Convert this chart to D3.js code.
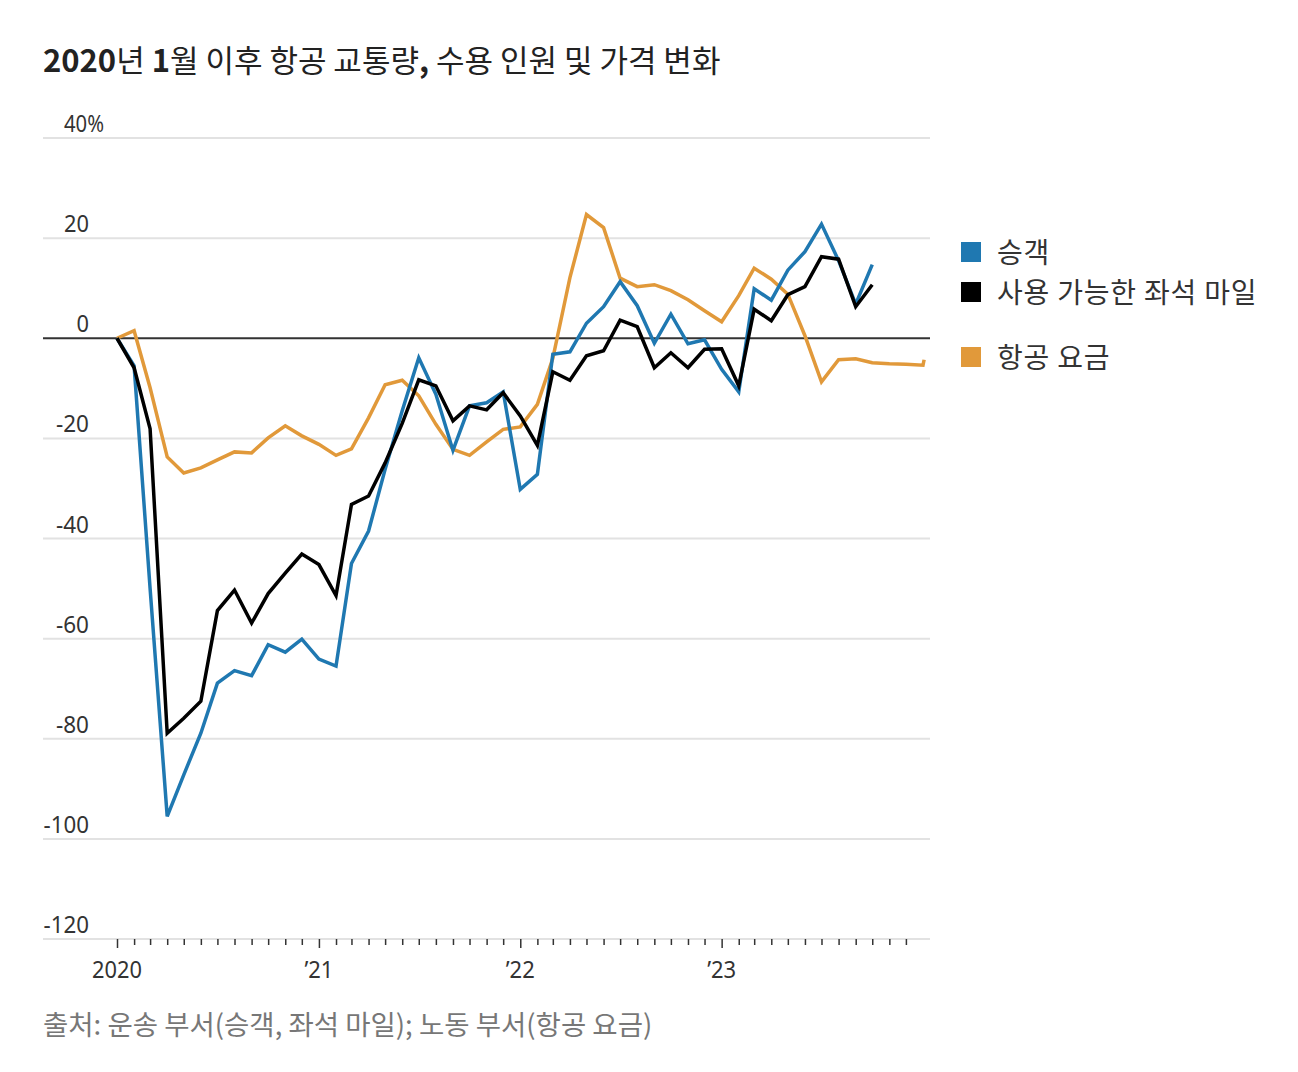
<!DOCTYPE html>
<html>
<head>
<meta charset="utf-8">
<script src="https://cdn.jsdelivr.net/npm/d3@7"></script>
<style>
  body { margin: 0; background: #fff; }
  text { font-family: "Noto Sans CJK KR", "Noto Sans", sans-serif; }
  .num { font-family: "Liberation Sans Narrow", "Noto Sans", sans-serif; }
</style>
</head>
<body>
<div id="chart"></div>
<script>
// monthly % change vs Jan 2020
const passengers = [
  0, -5.5, -50, -95.5, -87.2, -78.9, -68.9, -66.4, -67.4, -61.2, -62.7, -60.1,
  -64.1, -65.5, -45, -38.5, -26.2, -14.5, -3.9, -11.2, -22.4, -13.5, -12.9, -10.7,
  -30.2, -27.2, -3.2, -2.7, 3, 6.3, 11.3, 6.5, -1, 4.8, -1.1, -0.3,
  -6.2, -10.7, 9.9, 7.6, 13.6, 17.3, 22.8, 15.5, 6.8, 14.7
];
const seatMiles = [
  0, -5.9, -18.1, -78.9, -75.9, -72.5, -54.4, -50.3, -56.9, -51, -46.9, -43.1,
  -45.2, -51.4, -33.2, -31.5, -24.9, -17, -8.3, -9.5, -16.5, -13.5, -14.3, -10.9,
  -15.5, -21.4, -6.7, -8.4, -3.5, -2.5, 3.6, 2.3, -5.9, -2.9, -5.9, -2.2,
  -2.1, -9.5, 5.8, 3.5, 8.7, 10.3, 16.3, 15.8, 6.3, 10.7
];
const fares = [
  0, 1.5, -9.9, -23.7, -26.9, -25.9, -24.3, -22.7, -22.9, -19.9, -17.5, -19.5,
  -21.2, -23.4, -22.1, -15.9, -9.3, -8.4, -11.5, -17.2, -22.2, -23.4, -20.7, -18.2,
  -17.7, -13.2, -4, 12.1, 24.7, 22.1, 12, 10.3, 10.7, 9.5, 7.7, 5.5,
  3.3, 8.5, 14, 11.8, 8.8, 0.5, -8.7, -4.3, -4.1, -4.9, -5.1, -5.2,
  -5.4, -4.3
];
const months = d3.timeMonth.range(new Date(2020, 0, 1), new Date(2024, 1, 1));
const fareDates = [...months, new Date(2024, 0, 3)];
const yTicks = [40, 20, 0, -20, -40, -60, -80, -100, -120];
const yearLabels = ["2020", "\u201921", "\u201922", "\u201923"];
const seriesNames = ["승객", "사용 가능한 좌석 마일", "항공 요금"];
const colors = ["#1f78b1", "#000000", "#e1993a"];

const W = 1298, H = 1072;
const svg = d3.select("#chart").append("svg")
  .attr("width", W).attr("height", H);

const x = d3.scaleTime()
  .domain([new Date(2020, 0, 1), new Date(2024, 0, 1)])
  .range([117, 923]);
const y = d3.scaleLinear().domain([-120, 40]).range([939, 138]);

// rough widths of the condensed digit font
const charW = c => c === "-" ? 8 : c === "\u2019" ? 4 : c === "%" ? 15 : 12.5;
const strW = s => s.split("").reduce((a, c) => a + charW(c), 0);

// title
const title = svg.append("text").attr("x", 43).attr("y", 72)
  .attr("font-size", 31).attr("fill", "#222");
title.append("tspan").attr("font-weight", "bold").text("2020");
title.append("tspan").text("년 ");
title.append("tspan").attr("font-weight", "bold").text("1");
title.append("tspan").text("월 이후 항공 교통량");
title.append("tspan").attr("font-weight", "bold").text(",");
title.append("tspan").text(" 수용 인원 및 가격 변화");

// gridlines
svg.append("g").selectAll("line").data(yTicks).enter().append("line")
  .attr("x1", 43).attr("x2", 930)
  .attr("y1", d => y(d)).attr("y2", d => y(d))
  .attr("stroke", d => d === 0 ? "#333" : "#e2e2e2")
  .attr("stroke-width", 2);

// y labels
const yLabel = d => d === 40 ? "40%" : String(d);
svg.append("g").selectAll("text").data(yTicks).enter().append("text")
  .attr("class", "num")
  .attr("x", d => d === 40 ? 89 + charW("%") : 89)
  .attr("y", d => y(d) - 6)
  .attr("text-anchor", "end")
  .attr("font-size", 24).attr("fill", "#333")
  .attr("textLength", d => strW(yLabel(d)))
  .attr("lengthAdjust", "spacingAndGlyphs")
  .text(yLabel);

// x axis ticks
const xAxis = svg.append("g")
  .attr("transform", `translate(0,${y(-120)})`)
  .call(d3.axisBottom(x)
    .tickValues(months.slice(0, 48))
    .tickSize(6)
    .tickFormat(""));
xAxis.select(".domain").remove();
xAxis.selectAll(".tick line")
  .attr("stroke", "#333").attr("stroke-width", 1.5)
  .attr("y2", d => d.getMonth() === 0 ? 9 : 6);

svg.append("g").selectAll("text").data(yearLabels).enter().append("text")
  .attr("class", "num")
  .attr("x", (d, i) => x(new Date(2020 + i, 0, 1)))
  .attr("y", 978)
  .attr("text-anchor", "middle")
  .attr("font-size", 24).attr("fill", "#333")
  .attr("textLength", d => strW(d))
  .attr("lengthAdjust", "spacingAndGlyphs")
  .text(d => d);

// lines
const line = d3.line().x(d => x(d[0])).y(d => y(d[1]));
const seriesData = [
  passengers.map((v, i) => [months[i], v]),
  seatMiles.map((v, i) => [months[i], v]),
  fares.map((v, i) => [fareDates[i], v])
];
[2, 0, 1].forEach(k => {
  svg.append("path")
    .datum(seriesData[k])
    .attr("fill", "none")
    .attr("stroke", colors[k])
    .attr("stroke-width", 3.5)
    .attr("stroke-linejoin", "miter")
    .attr("d", line);
});

// legend
const legendY = [252, 292, 357];
const legend = svg.append("g");
seriesNames.forEach((name, i) => {
  legend.append("rect")
    .attr("x", 961).attr("y", legendY[i] - 10)
    .attr("width", 20).attr("height", 20)
    .attr("fill", colors[i]);
  legend.append("text")
    .attr("x", 997).attr("y", legendY[i] + 11)
    .attr("font-size", 28).attr("fill", "#333")
    .attr("letter-spacing", 0.8)
    .text(name);
});

// source
svg.append("text").attr("x", 43).attr("y", 1035)
  .attr("font-size", 27.5).attr("fill", "#777")
  .text("출처: 운송 부서(승객, 좌석 마일); 노동 부서(항공 요금)");
</script>
</body>
</html>
